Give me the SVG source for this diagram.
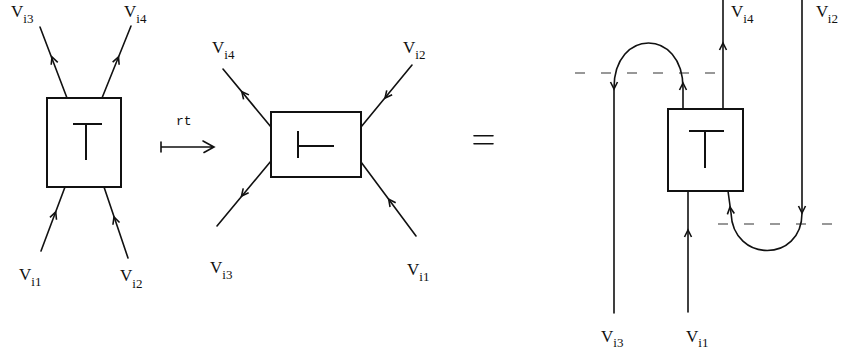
<svg xmlns="http://www.w3.org/2000/svg" width="841" height="356" viewBox="0 0 841 356">
<style>
.ln{fill:none;stroke:#111;stroke-width:1.6;stroke-linecap:round}
.box{fill:#fff;stroke:#111;stroke-width:2}
.sym{fill:none;stroke:#111;stroke-width:2}
.ch{fill:none;stroke:#111;stroke-width:1.6;stroke-linejoin:miter}
.dash{fill:none;stroke:#777;stroke-width:1.3;stroke-dasharray:10 16}
.v{font-family:"Liberation Serif",serif;font-size:17px;fill:#111}
.s{font-size:13px}
.rt{font-family:"Liberation Mono",monospace;font-size:13px;fill:#111}
</style>
<defs>
<path id="chev" class="ch" d="M-3.5,7 L0,0 L3.5,7"/>
</defs>
<rect width="841" height="356" fill="#fff"/>

<g id="connectors">
<!-- left diagram -->
<path class="ln" d="M67,98 L40,27"/>
<path class="ln" d="M102,98 L131,26"/>
<path class="ln" d="M65,187 L41,251"/>
<path class="ln" d="M104,187 L128,258"/>
<use href="#chev" transform="translate(52,57) rotate(-20.8)"/>
<use href="#chev" transform="translate(118.5,57) rotate(21.9)"/>
<use href="#chev" transform="translate(55.7,212) rotate(20.6)"/>
<use href="#chev" transform="translate(114,217) rotate(-18.7)"/>
<!-- rt map arrow -->
<path class="ln" d="M161,147 H214 M161,142 V152 M203,141 L214,147 L204,152.5"/>
<!-- middle diagram -->
<path class="ln" d="M271,127 L223,69"/>
<path class="ln" d="M361,127 L412,65"/>
<path class="ln" d="M271,161 L217,226"/>
<path class="ln" d="M361,162 L416,236"/>
<use href="#chev" transform="translate(241.8,91.7) rotate(-39.6)"/>
<use href="#chev" transform="translate(385,98) rotate(-140.6)"/>
<use href="#chev" transform="translate(241.5,196) rotate(-140.7)"/>
<use href="#chev" transform="translate(388.7,199.3) rotate(-36.6)"/>
<!-- equals -->
<path class="ln" d="M474,135.7 H493 M474,143.7 H493"/>
<!-- right diagram -->
<path class="dash" d="M575,73 H716"/>
<path class="dash" d="M718,224 H834"/>
<path class="ln" d="M683,109 V88 C683,28 614,28 614,88 V313"/>
<path class="ln" d="M723,109 V0"/>
<path class="ln" d="M688,191 V312"/>
<path class="ln" d="M728,191 L731,213 C733,263 802,263 802,213 V0"/>
<use href="#chev" transform="translate(614,89) rotate(180)"/>
<use href="#chev" transform="translate(683,83) rotate(0)"/>
<use href="#chev" transform="translate(723,43) rotate(0)"/>
<use href="#chev" transform="translate(802,213) rotate(180)"/>
<use href="#chev" transform="translate(730,207) rotate(-7)"/>
<use href="#chev" transform="translate(688,230) rotate(0)"/>
</g>

<g id="nodeT-left">
<rect class="box" x="47" y="98" width="74" height="89"/>
<path class="sym" d="M73,124 H102 M86,124 V160"/>
</g>
<g id="nodeT-middle">
<rect class="box" x="271" y="112" width="90" height="65"/>
<path class="sym" d="M298,131 V158 M298,146 H334"/>
</g>
<g id="nodeT-right">
<rect class="box" x="668" y="109" width="75" height="82"/>
<path class="sym" d="M689,131 H724 M705,131 V168"/>
</g>

<g id="labels">
<text class="v" x="11" y="17">V<tspan class="s" dy="6">i3</tspan></text>
<text class="v" x="124" y="17">V<tspan class="s" dy="6">i4</tspan></text>
<text class="v" x="19" y="280">V<tspan class="s" dy="6">i1</tspan></text>
<text class="v" x="120" y="281">V<tspan class="s" dy="7">i2</tspan></text>
<text class="rt" x="176" y="125">rt</text>
<text class="v" x="212" y="53">V<tspan class="s" dy="6">i4</tspan></text>
<text class="v" x="403" y="53">V<tspan class="s" dy="6">i2</tspan></text>
<text class="v" x="210" y="273">V<tspan class="s" dy="6">i3</tspan></text>
<text class="v" x="407" y="275">V<tspan class="s" dy="6">i1</tspan></text>
<text class="v" x="731" y="17">V<tspan class="s" dy="6">i4</tspan></text>
<text class="v" x="816" y="17">V<tspan class="s" dx="-0.5" dy="6">i2</tspan></text>
<text class="v" x="601" y="342">V<tspan class="s" dy="5">i3</tspan></text>
<text class="v" x="686" y="342">V<tspan class="s" dy="5">i1</tspan></text>
</g>
</svg>
